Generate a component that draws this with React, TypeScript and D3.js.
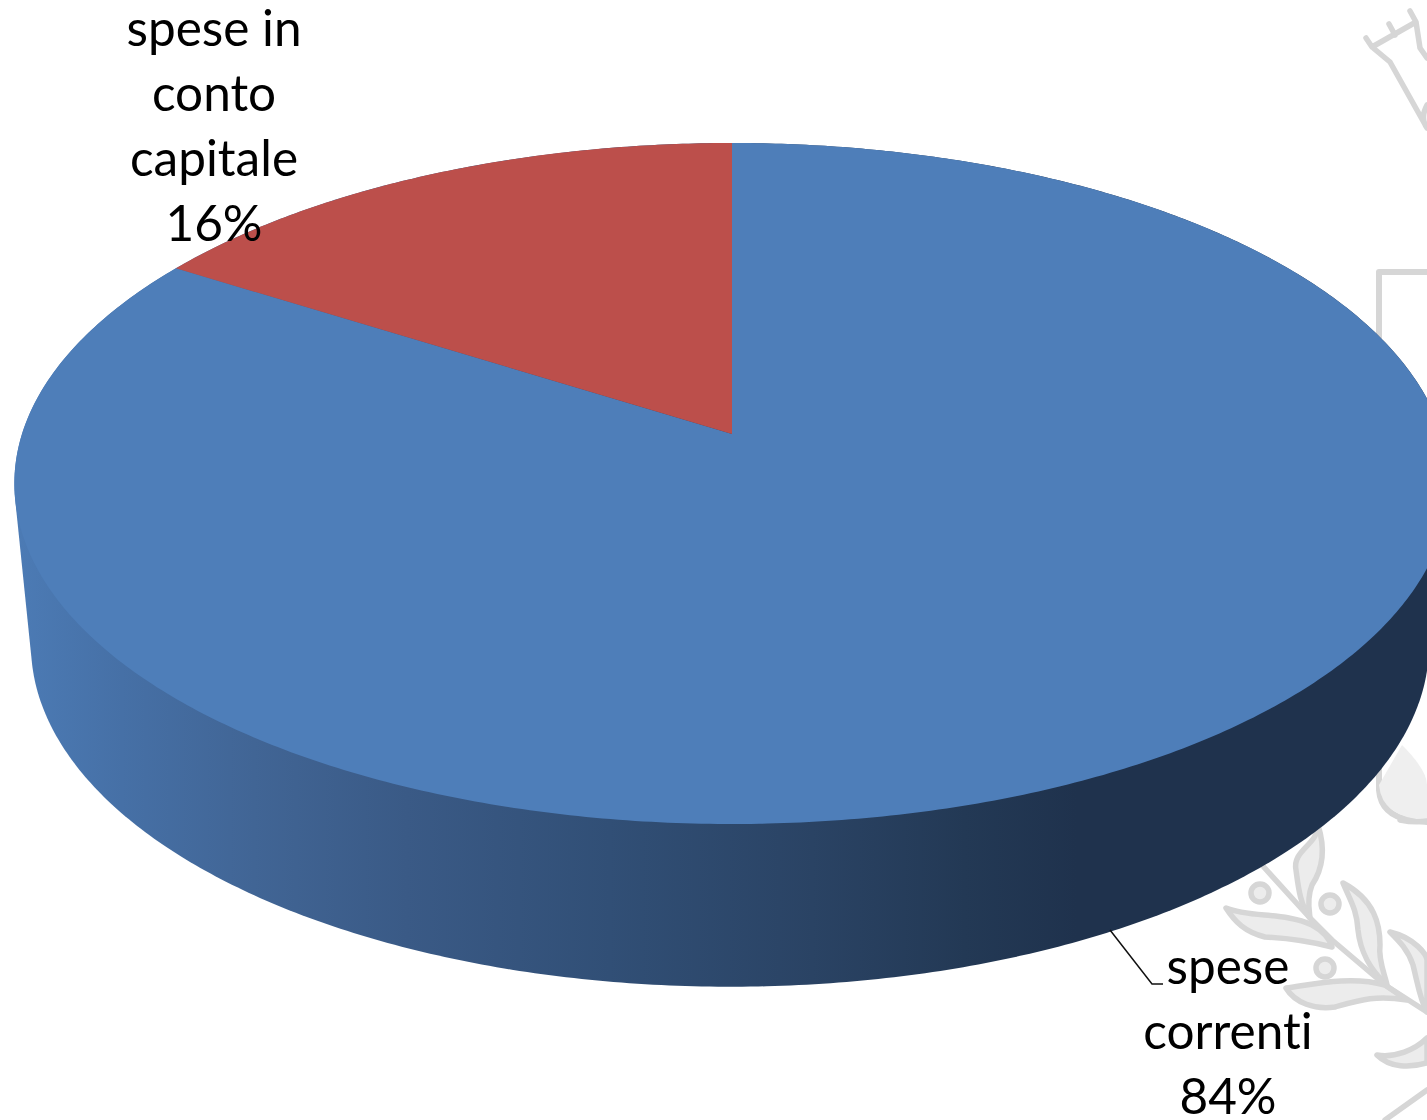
import React from "react";
import * as d3 from "d3";

const categories = ["spese correnti", "spese in conto capitale"];
const values = [84, 16];
const labelLines = [["spese", "correnti", "84%"], ["spese in", "conto", "capitale", "16%"]];
const colors = ["#4e7eb9", "#bc4f4b"];

const W = 1427, H = 1120;
const FONT = "Lato, 'Open Sans', sans-serif";

// perspective projection of the unit pie circle onto the page
const K = 0.1454;
const topFace = { cx: 732, cy: 434, A: 333.3, B: 710 };
const baseFace = { cx: 730, cy: 595, A: 334.8, B: 691.6 };
type Face = typeof topFace;
const project = (f: Face, a: number): [number, number] => {
  const u = Math.sin(a), v = -Math.cos(a);
  const w = 1 - K * v;
  return [f.cx + (f.B * u) / w, f.cy + (f.A * v) / w];
};
const ring = (f: Face, a0: number, a1: number) => {
  const n = Math.max(2, Math.ceil(Math.abs(a1 - a0) / 0.01));
  return d3.range(n + 1).map((i) => project(f, a0 + ((a1 - a0) * i) / n));
};

const pie = d3.pie<number>().sort(null);
const arcs = pie(values);
const line = d3.line();

const slicePath = (a0: number, a1: number) =>
  line([[topFace.cx, topFace.cy], ...ring(topFace, a0, a1)])! + "Z";

const hull = d3.polygonHull([...ring(topFace, 0, 2 * Math.PI), ...ring(baseFace, 0, 2 * Math.PI)])!;

const sideX = d3.scaleLinear().domain([14, 1427]).range([0, 1]);
const sideStops: [number, string][] = [
  [14, "#4c7bb5"], [120, "#4670a6"], [250, "#416595"], [400, "#3a5a86"],
  [600, "#314f76"], [800, "#2a4364"], [950, "#233955"], [1060, "#1f324d"], [1427, "#1f324d"],
];

const labelAnchors = [
  { x: 1228, y: 984 },
  { x: 214, y: 46 },
];

function Watermark() {
  return (
    <g stroke="#d6d6d6" strokeWidth={5.5} fill="none" strokeLinejoin="round" strokeLinecap="round">
      <path d="M1366,38 L1372,47 L1416,22 M1389,24 L1395,35 M1410,11 L1416,22 L1420,48 L1427,58 M1372,47 L1390,62 L1427,128 M1427,105 Q1420,118 1427,128" />
      <path d="M1427,272 L1379,272 L1379,790 Q1381,815 1410,820 L1427,822" strokeWidth={6} />
      <path d="M1402,745 Q1427,770 1427,785 L1427,820 Q1382,818 1379,785 Z" fill="#efefef" stroke="none" />
      <g fill="#ececec">
        <path d="M1296,870 C1292,850 1318,845 1318,825 C1326,850 1322,870 1312,885 C1306,900 1310,915 1310,918 C1300,905 1298,885 1296,870Z" />
        <path d="M1226,908 C1250,918 1285,912 1312,925 C1325,932 1330,940 1332,947 C1305,940 1285,938 1265,937 C1245,932 1235,922 1226,908Z" />
        <path d="M1343,883 C1375,900 1380,925 1380,945 C1378,960 1385,975 1387,985 C1370,970 1360,950 1358,930 C1357,910 1350,900 1343,883Z" />
        <path d="M1286,988 C1310,985 1350,975 1385,985 L1407,1000 C1375,995 1360,1000 1335,1007 C1315,1010 1295,1003 1286,988Z" />
        <path d="M1390,932 C1415,938 1427,955 1427,960 L1427,1012 C1420,1000 1418,985 1413,965 C1408,950 1400,942 1390,932Z" />
        <path d="M1377,1055 C1395,1058 1415,1050 1427,1038 L1427,1063 C1410,1068 1390,1068 1377,1055Z" />
        <circle cx={1260} cy={893} r={9} />
        <circle cx={1330} cy={904} r={9} />
        <circle cx={1325} cy={968} r={9} />
      </g>
      <path d="M1262,865 L1310,918 L1332,940 L1385,985 L1427,1012" />
      <path d="M1385,1120 L1427,1090" />
      <path d="M1400,820 Q1415,823 1427,821" />
    </g>
  );
}

export default function App() {
  return (
    <svg
      width={W}
      height={H}
      viewBox={`0 0 ${W} ${H}`}
      style={{ position: "absolute", left: 0, top: 0, background: "#fff" }}
    >
      <defs>
        <linearGradient id="side" x1="0" x2="1" y1="0" y2="0">
          {sideStops.map(([x, c]) => (
            <stop key={x} offset={sideX(x)} stopColor={c} />
          ))}
        </linearGradient>
      </defs>
      <Watermark />
      <path d={line(hull)! + "Z"} fill="url(#side)" />
      {arcs.map((a, i) => (
        <path key={categories[i]} d={slicePath(a.startAngle, a.endAngle)} fill={colors[i]} />
      ))}
      <path d="M1110,930 L1152,984 L1163,984" fill="none" stroke="#111" strokeWidth={1.5} />
      {labelLines.map((lines, i) =>
        lines.map((t, j) => (
          <text
            key={t}
            x={labelAnchors[i].x}
            y={labelAnchors[i].y + j * 65}
            textAnchor="middle"
            fontFamily={FONT}
            fontSize={49.5}
            fill="#000"
            style={{ fontVariantLigatures: "none" }}
          >
            {t}
          </text>
        ))
      )}
    </svg>
  );
}
